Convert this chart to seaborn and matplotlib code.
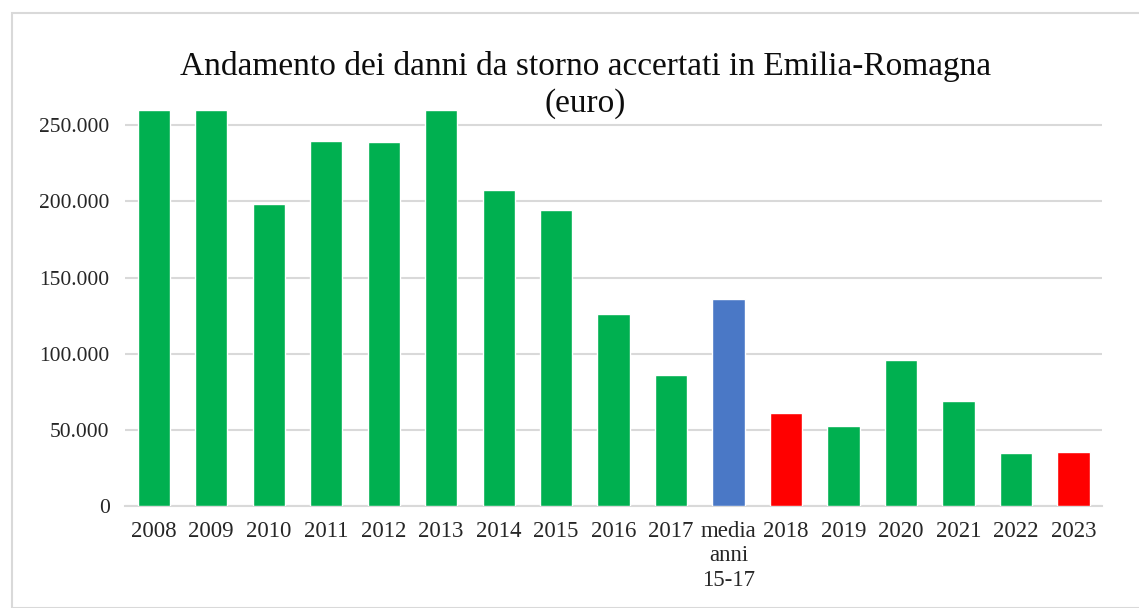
import matplotlib
matplotlib.use("Agg")
import matplotlib.pyplot as plt
import matplotlib.ticker as mticker
from matplotlib.patches import Rectangle
import seaborn as sns
import pandas as pd

# dati (le barre 2008, 2009, 2013 sono tagliate in alto)
categorie = ["2008", "2009", "2010", "2011", "2012", "2013", "2014", "2015",
             "2016", "2017", "media\nanni\n15-17", "2018", "2019", "2020",
             "2021", "2022", "2023"]
danni = [260000, 260000, 198000, 239800, 239000, 260000, 207200, 194100,
         126300, 86200, 135700, 61200, 52600, 95600, 69100, 34700, 35500]
colori = ["#00b050"] * 10 + ["#4a78c6", "#ff0000"] + ["#00b050"] * 4 + ["#ff0000"]

df = pd.DataFrame({"anno": categorie, "danni": danni})

sns.set_theme(style="white")
plt.rcParams["font.family"] = ["Liberation Serif", "DejaVu Serif"]

fig = plt.figure(figsize=(11.39, 6.08), dpi=100)
ax = fig.add_axes([0.1097, 0.1678, 0.858, 0.6512])

sns.barplot(data=df, x="anno", y="danni", hue="anno", palette=colori,
            legend=False, width=0.56, saturation=1, ax=ax, zorder=3)

ax.set_ylim(0, 260000)
ax.set_yticks([0, 50000, 100000, 150000, 200000, 250000])
ax.yaxis.set_major_formatter(
    mticker.FuncFormatter(lambda v, p: f"{int(v):,}".replace(",", ".")))
ax.yaxis.grid(True, color="#d9d9d9", linewidth=1.5, zorder=0)
for s in ["top", "right", "left"]:
    ax.spines[s].set_visible(False)
ax.spines["bottom"].set_color("#d9d9d9")
ax.spines["bottom"].set_linewidth(1.5)
ax.tick_params(axis="both", length=0, colors="#262626")
ax.tick_params(axis="x", pad=11, labelsize=16.5)
ax.tick_params(axis="y", pad=11, labelsize=15.5)
ax.set_xlabel("")
ax.set_ylabel("")

fig.text(0.514, 0.860, "Andamento dei danni da storno accertati in Emilia-Romagna\n(euro)",
         ha="center", va="center", fontsize=24, color="#0d0d0d", linespacing=1.25)

fig.patches.append(Rectangle((12 / 1139, 0), 1.0, 1 - 13 / 608, transform=fig.transFigure,
                             fill=False, edgecolor="#d9d9d9", linewidth=1.5))

fig.savefig("out.png", dpi=100)
